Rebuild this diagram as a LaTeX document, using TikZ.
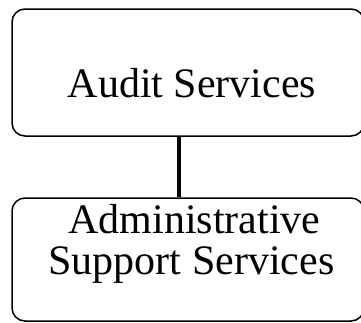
\documentclass[tikz,border=0pt]{standalone}
\usepackage{fontspec}
\setmainfont{Liberation Serif}
\begin{document}
\begin{tikzpicture}[x=1pt,y=-1pt,
  unitbox/.style={draw=black, line width=1.5pt, rounded corners=13pt, inner sep=0pt},
  label/.style={font=\fontsize{42}{41}\selectfont, inner sep=0pt, anchor=base},
  conn/.style={draw=black, line width=4pt}]
  \useasboundingbox (0,0) rectangle (361,322);
  \clip (0,0) rectangle (361,322);
  % the two units, their right sides run past the page edge
  \node[unitbox, minimum width=352pt, minimum height=127pt] (audit) at (188,72.5) {};
  \node[unitbox, minimum width=352pt, minimum height=123pt] (admin) at (188,259.5) {};
  % names of the units
  \node[label] (auditname) at (192,97) {Audit Services};
  \node[label] (adminname1) at (194.5,233) {Administrative};
  \node[label] (adminname2) at (191.5,274) {Support Services};
  % reporting line
  \coordinate (line) at (179,0);
  \draw[conn] (audit.south -| line) -- (admin.north -| line);
\end{tikzpicture}
\end{document}
